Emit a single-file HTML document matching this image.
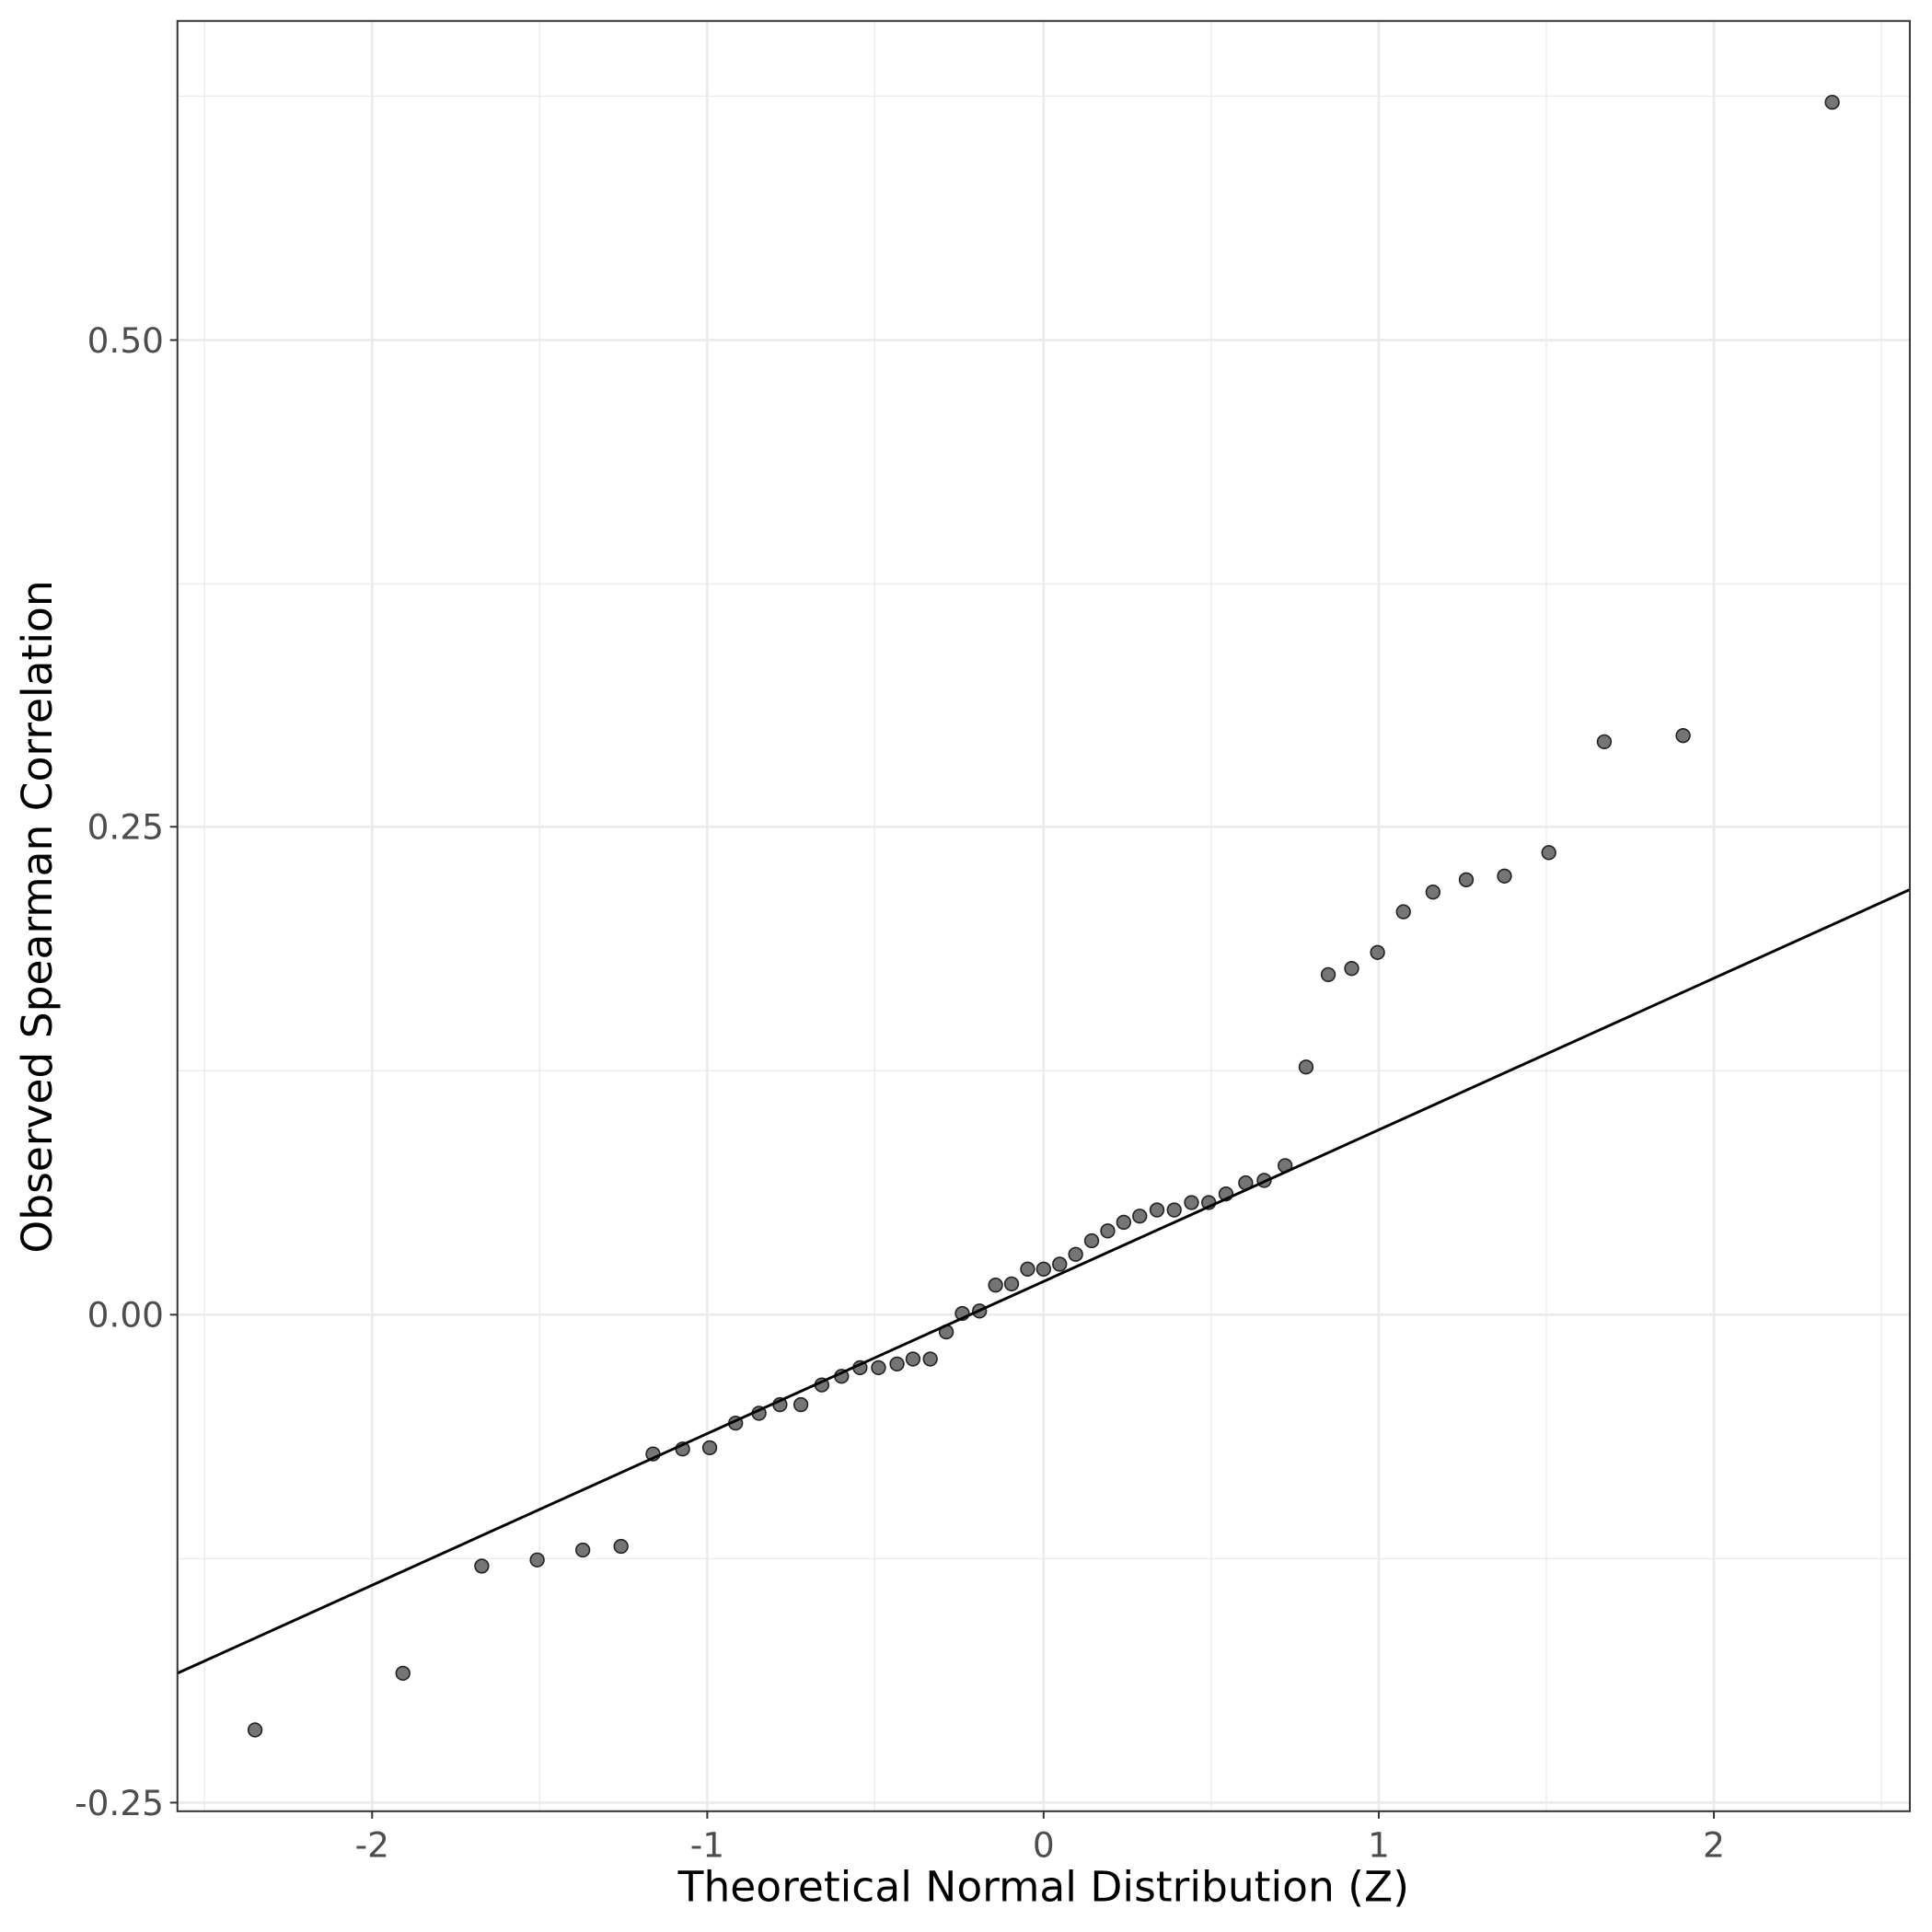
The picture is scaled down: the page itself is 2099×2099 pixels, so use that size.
<!DOCTYPE html>
<html><head><meta charset="utf-8"><style>
html,body{margin:0;padding:0;background:#fff;}
svg{display:block;}
text{font-family:"DejaVu Sans","Liberation Sans",sans-serif;}
</style></head><body>
<svg width="2099" height="2099" viewBox="0 0 1568 1568" xmlns="http://www.w3.org/2000/svg">
<rect width="1568" height="1568" fill="#fff"/>
<g stroke="#ebebeb" stroke-width="1">
<line x1="166" y1="17" x2="166" y2="1470"/><line x1="438" y1="17" x2="438" y2="1470"/><line x1="710" y1="17" x2="710" y2="1470"/><line x1="983" y1="17" x2="983" y2="1470"/><line x1="1255" y1="17" x2="1255" y2="1470"/><line x1="1527" y1="17" x2="1527" y2="1470"/>
<line x1="144" y1="78" x2="1550" y2="78"/><line x1="144" y1="474" x2="1550" y2="474"/><line x1="144" y1="869" x2="1550" y2="869"/><line x1="144" y1="1265" x2="1550" y2="1265"/>
</g>
<g stroke="#ebebeb" stroke-width="2">
<line x1="302" y1="17" x2="302" y2="1470"/><line x1="574" y1="17" x2="574" y2="1470"/><line x1="847" y1="17" x2="847" y2="1470"/><line x1="1119" y1="17" x2="1119" y2="1470"/><line x1="1391" y1="17" x2="1391" y2="1470"/>
<line x1="144" y1="276" x2="1550" y2="276"/><line x1="144" y1="671" x2="1550" y2="671"/><line x1="144" y1="1067" x2="1550" y2="1067"/><line x1="144" y1="1463" x2="1550" y2="1463"/>
</g>
<g fill="#666" fill-opacity="0.9" stroke="#222" stroke-width="1.2">
<circle cx="207" cy="1404" r="5.5"/><circle cx="327" cy="1358" r="5.5"/><circle cx="391" cy="1271" r="5.5"/><circle cx="436" cy="1266" r="5.5"/><circle cx="473" cy="1258" r="5.5"/><circle cx="504" cy="1255" r="5.5"/><circle cx="530" cy="1180" r="5.5"/><circle cx="554" cy="1176" r="5.5"/><circle cx="576" cy="1175" r="5.5"/><circle cx="597" cy="1155" r="5.5"/><circle cx="616" cy="1147" r="5.5"/><circle cx="633" cy="1140" r="5.5"/><circle cx="650" cy="1140" r="5.5"/><circle cx="667" cy="1124" r="5.5"/><circle cx="683" cy="1117" r="5.5"/><circle cx="698" cy="1110" r="5.5"/><circle cx="713" cy="1110" r="5.5"/><circle cx="728" cy="1107" r="5.5"/><circle cx="741" cy="1103" r="5.5"/><circle cx="755" cy="1103" r="5.5"/><circle cx="768" cy="1081" r="5.5"/><circle cx="781" cy="1066" r="5.5"/><circle cx="795" cy="1064" r="5.5"/><circle cx="808" cy="1043" r="5.5"/><circle cx="821" cy="1042" r="5.5"/><circle cx="834" cy="1030" r="5.5"/><circle cx="847" cy="1030" r="5.5"/><circle cx="860" cy="1026" r="5.5"/><circle cx="873" cy="1018" r="5.5"/><circle cx="886" cy="1007" r="5.5"/><circle cx="899" cy="999" r="5.5"/><circle cx="912" cy="992" r="5.5"/><circle cx="925" cy="987" r="5.5"/><circle cx="939" cy="982" r="5.5"/><circle cx="953" cy="982" r="5.5"/><circle cx="967" cy="976" r="5.5"/><circle cx="981" cy="976" r="5.5"/><circle cx="995" cy="969" r="5.5"/><circle cx="1011" cy="960" r="5.5"/><circle cx="1026" cy="958" r="5.5"/><circle cx="1043" cy="946" r="5.5"/><circle cx="1060" cy="866" r="5.5"/><circle cx="1078" cy="791" r="5.5"/><circle cx="1097" cy="786" r="5.5"/><circle cx="1118" cy="773" r="5.5"/><circle cx="1139" cy="740" r="5.5"/><circle cx="1163" cy="724" r="5.5"/><circle cx="1190" cy="714" r="5.5"/><circle cx="1221" cy="711" r="5.5"/><circle cx="1257" cy="692" r="5.5"/><circle cx="1302" cy="602" r="5.5"/><circle cx="1366" cy="597" r="5.5"/><circle cx="1487" cy="83" r="5.5"/>
</g>
<line x1="144" y1="1358" x2="1550" y2="722" stroke="#000" stroke-width="2.2"/>
<rect x="144" y="17" width="1406" height="1453" fill="none" stroke="#333" stroke-width="1.5"/>
<g stroke="#333" stroke-width="1.5">
<line x1="302" y1="1470" x2="302" y2="1476"/><line x1="574" y1="1470" x2="574" y2="1476"/><line x1="847" y1="1470" x2="847" y2="1476"/><line x1="1119" y1="1470" x2="1119" y2="1476"/><line x1="1391" y1="1470" x2="1391" y2="1476"/>
<line x1="138" y1="276" x2="144" y2="276"/><line x1="138" y1="671" x2="144" y2="671"/><line x1="138" y1="1067" x2="144" y2="1067"/><line x1="138" y1="1463" x2="144" y2="1463"/>
</g>
<g fill="#4d4d4d" font-size="28" text-anchor="middle">
<text x="302" y="1507">-2</text><text x="574" y="1507">-1</text><text x="847" y="1507">0</text><text x="1119" y="1507">1</text><text x="1391" y="1507">2</text>
</g>
<g fill="#4d4d4d" font-size="28" text-anchor="end">
<text x="133" y="286">0.50</text><text x="133" y="681">0.25</text><text x="133" y="1077">0.00</text><text x="133" y="1473">-0.25</text>
</g>
<text x="847" y="1543" font-size="34" text-anchor="middle" fill="#000">Theoretical Normal Distribution (Z)</text>
<text transform="translate(42,744) rotate(-90)" font-size="34" text-anchor="middle" fill="#000">Observed Spearman Correlation</text>
</svg>
</body></html>
